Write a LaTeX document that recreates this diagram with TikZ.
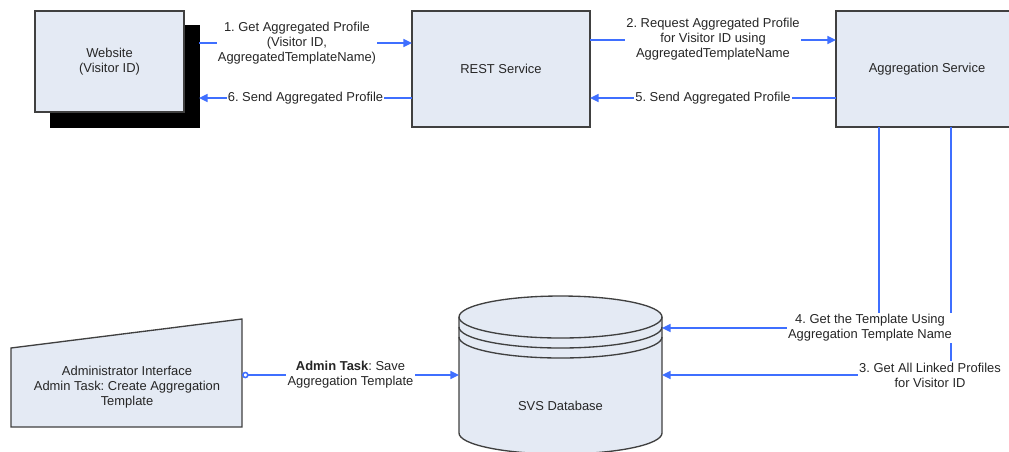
\documentclass[tikz,border=0pt]{standalone}
\usepackage{fontspec}
\setmainfont{Liberation Sans}
\usepackage{tikz}
\usetikzlibrary{arrows.meta, positioning, calc}
\usepackage{xcolor}
\definecolor{BoxFill}{HTML}{E4EAF4}
\definecolor{BoxLine}{HTML}{404040}
\definecolor{FlowBlue}{HTML}{3F6FFF}
\definecolor{TextGray}{HTML}{262626}
\newcommand{\diagfont}{\fontsize{9.7}{11.4}\selectfont}
\frenchspacing
\tikzset{
    % Box styles - all sharp corners
    shapefill/.style={
        draw=BoxLine,
        fill=BoxFill,
        line width=1pt
    },
    service/.style={
        rectangle,
        shapefill,
        inner sep=0pt,
        outer sep=0pt,
        align=center,
        text=TextGray,
        font=\diagfont
    },
    shadowbox/.style={
        rectangle,
        fill=black,
        draw=black,
        inner sep=0pt,
        outer sep=0pt
    },
    port/.style={
        rectangle,
        inner sep=0pt,
        outer sep=0pt
    },
    boxtext/.style={
        align=center,
        text=TextGray,
        font=\diagfont
    },
    % Arrow styles - straight lines only
    flow/.style={
        -{Triangle[length=6.5pt,width=6pt]},
        line width=1.2pt,
        draw=FlowBlue
    },
    flowlabel/.style={
        fill=white,
        inner sep=1pt,
        align=center,
        text=TextGray,
        font=\diagfont
    }
}

\begin{document}
\begin{tikzpicture}[x=0.75pt, y=-0.75pt]
    \useasboundingbox (0,0) rectangle (1009,451);
    \clip (0,0) rectangle (1009,451);

    % top row
    \node[shadowbox, minimum width=111.75pt, minimum height=76.5pt] (webshadow) at (124.5,76.5) {};
    \node[service, minimum width=111.75pt, minimum height=75.75pt] (web) at (109.5,61.5) {Website\\(Visitor ID)};
    \node[service, minimum width=133.5pt, minimum height=87pt] (rest) at (501,69) {REST Service};
    \node[service, minimum width=136.5pt, minimum height=87pt] (agg) at (927,69) {Aggregation Service};

    % administrator interface (manual input)
    \draw[shapefill] (11,348) -- (242,319) -- (242,427) -- (11,427) -- cycle;
    \node[boxtext] (admin) at (127,387) {Administrator Interface\\Admin Task: Create Aggregation\\Template};
    \coordinate (adminport) at (242,375);

    % database
    \node[port, minimum width=152.25pt, minimum height=117.75pt] (db) at (560.5,375) {};
    \draw[shapefill] (459,317) -- (459,433)
        arc[start angle=180, end angle=360, x radius=76.125pt, y radius=15.75pt] -- (662,317)
        arc[start angle=0, end angle=180, x radius=76.125pt, y radius=15.75pt] -- cycle;
    \foreach \dy in {0,10,20}
        \draw[line width=1pt, draw=BoxLine] (459,317+\dy)
            arc[start angle=180, end angle=360, x radius=76.125pt, y radius=15.75pt];
    \node[boxtext] (dbtext) at (560.5,406) {SVS Database};

    % connection points
    \coordinate (rin) at ([yshift=19.5pt]rest.west);
    \coordinate (rout) at ([yshift=-21.75pt]rest.west);
    \coordinate (ain) at ([yshift=21.75pt]agg.west);
    \coordinate (aout) at ([yshift=-21.75pt]agg.west);

    \draw[flow] (rin -| webshadow.east) -- (rin)
        node[flowlabel, pos=0.46] {1. Get Aggregated Profile\\(Visitor ID,\\AggregatedTemplateName)};
    \draw[flow] (ain -| rest.east) -- (ain)
        node[flowlabel, midway, yshift=0.75pt] {2. Request Aggregated Profile\\for Visitor ID using\\AggregatedTemplateName};
    \draw[flow] ([xshift=18pt]agg.south) |- (db.east)
        node[flowlabel, pos=0.5, xshift=-15.75pt] {3. Get All Linked Profiles\\for Visitor ID};
    \draw[flow] ([xshift=-36pt]agg.south) |- ([yshift=35.25pt]db.east)
        node[flowlabel, pos=0.5, xshift=-6.75pt] {4. Get the Template Using\\Aggregation Template Name};
    \draw[flow] (aout) -- (aout -| rest.east)
        node[flowlabel, midway] {5. Send Aggregated Profile};
    \draw[flow] (rout) -- (rout -| webshadow.east)
        node[flowlabel, midway] {6. Send Aggregated Profile};
    \draw[flow, {Circle[open,length=5pt]}-{Triangle[length=6.5pt,width=6pt]}] (adminport) -- (adminport -| db.west)
        node[flowlabel, midway] {\textbf{Admin Task}: Save\\Aggregation Template};
\end{tikzpicture}
\end{document}
